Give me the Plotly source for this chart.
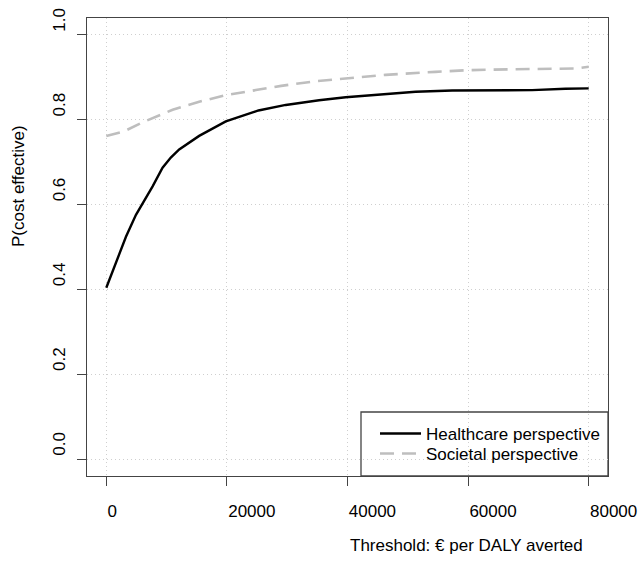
import plotly.graph_objects as go

# Healthcare perspective (black, solid)
hc_x = [0, 1600, 3260, 4920, 6020, 7680, 9330, 10700, 12090, 15400, 19820, 23130, 25230,
        29760, 35280, 39700, 46330, 51300, 57360, 64000, 70610, 76140, 80000]
hc_y = [0.404, 0.461, 0.524, 0.576, 0.603, 0.643, 0.687, 0.711, 0.730, 0.762, 0.796, 0.813, 0.822,
        0.835, 0.846, 0.853, 0.861, 0.866, 0.869, 0.870, 0.870, 0.873, 0.874]

# Societal perspective (grey, dashed)
soc_x = [0, 3000, 6000, 11000, 15400, 19800, 24800, 29000, 34700, 40800, 46300,
         54600, 60100, 67000, 73900, 78000, 80000]
soc_y = [0.762, 0.773, 0.794, 0.8235, 0.8425, 0.858, 0.870, 0.880, 0.891, 0.898, 0.906,
         0.913, 0.917, 0.919, 0.920, 0.921, 0.925]

x_ticks = [0, 20000, 40000, 60000, 80000]
y_ticks = [0.0, 0.2, 0.4, 0.6, 0.8, 1.0]
x_title = "Threshold: € per DALY averted"
y_title = "P(cost effective)"
series_names = ["Healthcare perspective", "Societal perspective"]

FONT = "Liberation Sans, Arial, sans-serif"
W, H = 640, 561
L, R, T, B = 87, 32, 18, 85
pw, ph = W - L - R, H - T - B

def px_x(p):
    return (p - L) / pw

def px_y(p):
    return (H - B - p) / ph

fig = go.Figure()
fig.add_trace(go.Scatter(x=hc_x, y=hc_y, mode="lines", name=series_names[0],
                         line=dict(color="black", width=2.4), legend="legend"))
fig.add_trace(go.Scatter(x=soc_x, y=soc_y, mode="lines", name=series_names[1],
                         line=dict(color="#bebebe", width=2.6, dash="14px,8px"),
                         legend="legend2"))

axis_common = dict(
    showline=True, mirror=True, linecolor="#444444", linewidth=1.3,
    ticks="outside", ticklen=9, tickcolor="#444444", tickwidth=1.3,
    showgrid=True, gridcolor="#cfcfcf", gridwidth=1, griddash="1px,3px",
    zeroline=False, automargin=False,
    tickfont=dict(family=FONT, size=17, color="black"),
)

legend_common = dict(xanchor="left", yanchor="top", bgcolor="rgba(0,0,0,0)",
                     borderwidth=0, itemwidth=41,
                     font=dict(family=FONT, size=17, color="black"))

fig.update_layout(
    width=W, height=H,
    margin=dict(l=L, r=R, t=T, b=B, autoexpand=False),
    paper_bgcolor="white", plot_bgcolor="white",
    font=dict(family=FONT, size=17, color="black"),
    xaxis=dict(range=[-3200, 83200], tickvals=x_ticks,
               ticktext=[str(v) for v in x_ticks],
               ticklabelposition="outside right", ticklabelstandoff=19,
               **axis_common),
    yaxis=dict(range=[-0.04, 1.04], tickvals=y_ticks,
               ticktext=[f"{v:.1f}" for v in y_ticks],
               tickangle=-90, ticklabelposition="outside top", ticklabelstandoff=14,
               **axis_common),
    showlegend=True,
    legend=dict(x=px_x(375), y=px_y(416), **legend_common),
    legend2=dict(x=px_x(375), y=px_y(436), **legend_common),
    shapes=[dict(type="rect", xref="paper", yref="paper",
                 x0=px_x(361), x1=1, y0=0, y1=px_y(412),
                 line=dict(color="#444444", width=1.3), fillcolor="white", layer="below")],
    annotations=[
        dict(text=x_title, xref="paper", yref="paper", x=0.5, y=px_y(545),
             xanchor="left", yanchor="middle", showarrow=False,
             font=dict(family=FONT, size=17, color="black")),
        dict(text=y_title, xref="paper", yref="paper", x=px_x(18), y=px_y(249),
             xanchor="center", yanchor="bottom", textangle=-90, showarrow=False,
             font=dict(family=FONT, size=17, color="black")),
    ],
)

fig.write_html("out.html", config={"displayModeBar": False},
               post_script="document.body.style.margin='0';document.body.style.padding='0';")
